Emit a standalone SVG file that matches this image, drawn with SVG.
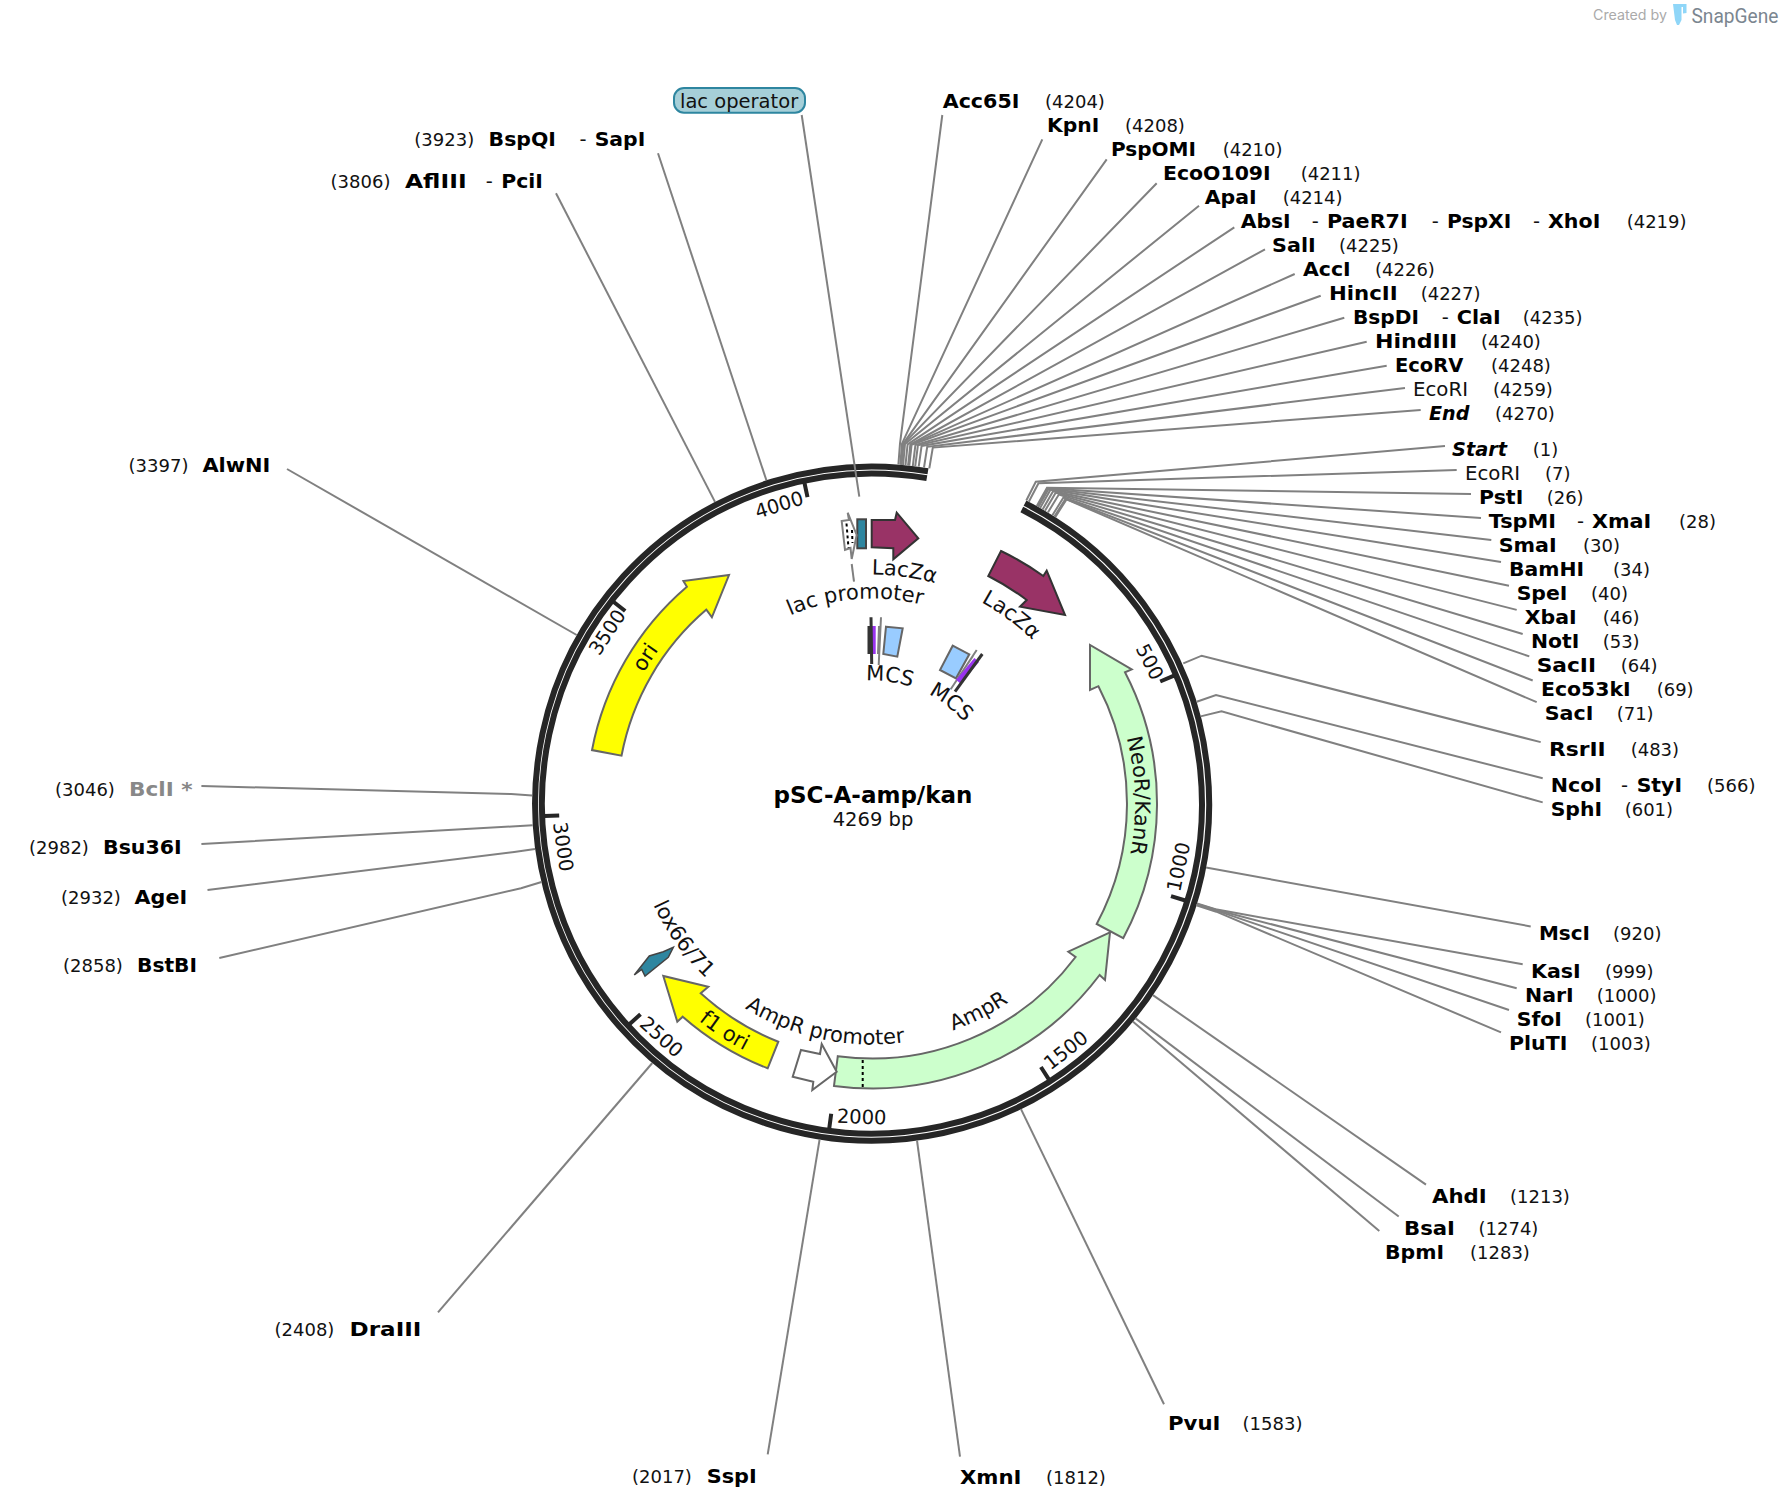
<svg xmlns="http://www.w3.org/2000/svg" width="1786" height="1510" viewBox="0 0 1786 1510">
<defs><style>
text{font-family:"DejaVu Sans","Liberation Sans",sans-serif;font-size:19.5px;fill:#111}
.e{font-weight:bold;fill:#000}
.s{font-weight:bold;font-style:italic;fill:#000}
.g{font-weight:bold;fill:#888}
.n{font-size:18px}
.a{font-size:21px}
.t{text-anchor:middle}
.l{fill:none;stroke:#808080;stroke-width:2}
.r{fill:none;stroke:#262626;stroke-width:6}
.k{stroke:#262626;stroke-width:4;fill:none}
.f{stroke:#666;stroke-width:2}
.y{fill:#ffff00}
.v{fill:#ccffcc}
.m{fill:#993366;stroke:#333;stroke-width:2}
.b{fill:#99ccff;stroke:#666;stroke-width:2}
.p{fill:#9933ee;stroke:none}
.d{stroke:#333;stroke-width:3;fill:none}
.h{stroke:#808080;stroke-width:2;fill:none}
.q{fill:#2e86a0;stroke:#444;stroke-width:2}
.o{fill:none;stroke:#000;stroke-width:2;stroke-dasharray:3 3}
</style>
<path id="a1" d="M686.7 715.9A205 205 0 0 1 1040.5 686.8"/>
<path id="a2" d="M691.5 662.5A229 229 0 0 1 1084.3 717.7"/>
<path id="a3" d="M775.1 727.8A123 123 0 0 1 986 757.4"/>
<path id="a4" d="M780.7 593.5A229 229 0 0 1 1099.5 829.4"/>
<path id="a5" d="M825.9 689.5A123 123 0 0 1 993.8 820.6"/>
<path id="a6" d="M638.1 923.7A263 263 0 0 1 884.8 540.8"/>
<path id="a7" d="M996.7 571.9A263 263 0 0 1 1010.2 1027.3"/>
<path id="a9" d="M741.1 1005.8A241 241 0 0 0 1112.7 815.7"/>
<path id="a10" d="M642.8 878A241 241 0 0 0 1051.1 964.8"/>
<path id="a11" d="M594.4 789A278 278 0 0 0 998.2 1051.2"/>
<path id="a12" d="M652.4 704.3A241 241 0 0 0 895.9 1043.3"/>
</defs>
<rect width="1786" height="1510" fill="#fff"/>

<g id="backbone">
<path class="r" d="M1025 503.2A337 337 0 1 1 928 471.2"/>
<path class="r" d="M1021.8 509.5A330 330 0 1 1 926.8 478.1"/>
<path class="k" d="M1160.2 681.5L1174 675.6M1171 896.1L1185.3 900.5M1040.9 1067L1049 1079.7M831.2 1113.8L829.2 1128.7M640.5 1014.2L629.4 1024.3M559.2 815.5L544.2 816.1M625.2 611L613.4 601.7M807.5 497.2L804.4 482.5"/>
<g id="ticks">
<text class="t" y="7" transform="translate(1150 661.7) rotate(63)">500</text>
<text class="t" y="7" transform="translate(1178.3 866.7) rotate(-78.3)">1000</text>
<text class="t" y="7" transform="translate(1065.7 1050) rotate(-38.2)">1500</text>
<text class="t" y="7" transform="translate(861.7 1116.7) rotate(1.9)">2000</text>
<text class="t" y="7" transform="translate(661.7 1036.7) rotate(42)">2500</text>
<text class="t" y="7" transform="translate(563.5 846.7) rotate(82)">3000</text>
<text class="t" y="7" transform="translate(607 632) rotate(-57)">3500</text>
<text class="t" y="7" transform="translate(779 504.6) rotate(-17.3)">4000</text>
</g>
</g>

<g id="connectors">
<polyline class="l" points="898.4,464.5 900,443.6 942.3,115"/>
<polyline class="l" points="900.3,464.7 902,443.7 1042.3,139.3"/>
<polyline class="l" points="901.2,464.8 903,443.8 1106.7,159.3"/>
<polyline class="l" points="901.6,464.8 903.5,443.9 1156.7,183.3"/>
<polyline class="l" points="903.1,465 905,444 1199,205.7"/>
<polyline class="l" points="905.5,465.2 907.6,444.3 1234.3,227.3"/>
<polyline class="l" points="908.1,465.4 910.4,444.5 1265,249.3"/>
<polyline class="l" points="908.7,465.5 911,444.6 1294.7,274"/>
<polyline class="l" points="909.3,465.6 911.6,444.7 1320.7,295.7"/>
<polyline class="l" points="912.8,466 915.4,445.1 1344.3,317.7"/>
<polyline class="l" points="915.2,466.3 917.9,445.4 1366.7,341.7"/>
<polyline class="l" points="918.7,466.7 921.6,445.9 1386.7,365.7"/>
<polyline class="l" points="924,467.5 927.2,446.8 1405,388"/>
<polyline class="l" points="929.3,468.4 932.8,447.6 1420.7,410"/>
<polyline class="l" points="1026.3,500.5 1035.8,481.8 1445,446"/>
<polyline class="l" points="1028.8,501.8 1038.5,483.2 1456.7,470"/>
<polyline class="l" points="1036.8,506.1 1047,487.7 1471,494"/>
<polyline class="l" points="1037.6,506.6 1047.8,488.2 1481,518"/>
<polyline class="l" points="1038.4,507 1048.7,488.7 1491.3,540"/>
<polyline class="l" points="1040.1,508 1050.5,489.7 1501,562"/>
<polyline class="l" points="1042.6,509.4 1053.1,491.2 1509,585.8"/>
<polyline class="l" points="1045,510.8 1055.7,492.7 1516.7,609.9"/>
<polyline class="l" points="1047.9,512.5 1058.8,494.6 1522.7,634"/>
<polyline class="l" points="1052.4,515.3 1063.5,497.5 1529.3,656.4"/>
<polyline class="l" points="1054.4,516.5 1065.6,498.8 1532.7,680.5"/>
<polyline class="l" points="1055.2,517.1 1066.5,499.4 1536.7,702.2"/>
<polyline class="l" points="1183.3,663.3 1201.7,655.7 1540.7,742.1"/>
<polyline class="l" points="1196.7,701.7 1216,695 1542.7,778.3"/>
<polyline class="l" points="1200.6,716.4 1221.5,711.4 1542.7,802.4"/>
<polyline class="l" points="1206,867.6 1530.7,926.4"/>
<polyline class="l" points="1197,903.5 1217,909.6 1522.7,964.2"/>
<polyline class="l" points="1196.8,904 1216.8,910 1516.7,988.3"/>
<polyline class="l" points="1196.6,904.5 1216.5,910.6 1509,1010"/>
<polyline class="l" points="1196.3,905.4 1216.3,911.7 1501,1032.4"/>
<polyline class="l" points="1152.9,995.1 1426,1184.6"/>
<polyline class="l" points="1135.5,1018.4 1398.7,1216.5"/>
<polyline class="l" points="1132.8,1021.6 1379.3,1231"/>
<polyline class="l" points="1021,1109.1 1164,1404.3"/>
<polyline class="l" points="917,1140.5 960,1456.7"/>
<polyline class="l" points="819.6,1139.4 767.7,1454.3"/>
<polyline class="l" points="652.3,1063 438,1312.3"/>
<polyline class="l" points="541.5,882 521,888.3 219.3,958"/>
<polyline class="l" points="535,849 514.2,851.9 207.5,890"/>
<polyline class="l" points="532.7,825.2 511.7,826.5 201.4,844"/>
<polyline class="l" points="532.1,795.4 511.1,794 201.4,786"/>
<polyline class="l" points="576.7,635 287,469"/>
<polyline class="l" points="715,501.9 556,193.3"/>
<polyline class="l" points="766.4,480.3 658,153.3"/>
<polyline class="l" points="801.7,115 859.3,496.7"/>
<polyline class="l" points="851.7,564 854,581.7"/>
</g>

<g id="feature-ori"><path class="f y" d="M592 750.1A285 285 0 0 1 686.9 586.8L683.4 581L729 575L711.9 617.3L706.4 609.6A255 255 0 0 0 621.5 755.7Z"/><text class="a"><textPath href="#a6" startOffset="50%" text-anchor="middle">ori</textPath></text></g>
<g id="feature-NeoR"><path class="f v" d="M1123.2 938.2A285 285 0 0 0 1125 672.3L1131.7 669.3L1090 645L1090 690L1098.4 686.2A255 255 0 0 1 1096.7 924Z"/><text class="a"><textPath href="#a7" startOffset="50%" text-anchor="middle">NeoR/KanR</textPath></text></g>
<g id="feature-AmpR"><path class="f v" d="M834 1085.9A285 285 0 0 0 1099.6 975L1105 980L1110 932.3L1068.3 951.7L1075.6 957A255 255 0 0 1 837.8 1056.2Z"/><path class="o" d="M862.7 1060L862.7 1087.3"/><text class="a"><textPath href="#a9" startOffset="50%" text-anchor="middle">AmpR</textPath></text></g>
<g id="feature-AmpR-promoter"><path class="f" fill="#fff" d="M801 1050L820 1054L821.7 1044L836.7 1071.7L812.3 1090L813.3 1081.7L792.7 1076.7Z"/><text class="a"><textPath href="#a10" startOffset="50%" text-anchor="middle">AmpR promoter</textPath></text></g>
<g id="feature-f1-ori"><path class="f y" d="M778.3 1041.7A255 255 0 0 1 700.7 993.3L708.3 986.7L663.3 976L677.3 1021.7L682.7 1016.7A285 285 0 0 0 767.7 1068.3Z"/><text class="a"><textPath href="#a11" startOffset="50%" text-anchor="middle">f1 ori</textPath></text></g>
<g id="feature-lox"><path class="q" style="stroke-width:1.5" d="M673.3 947.3L668.3 957.3L645 976L641.7 969.3L634.3 975L649.3 956L663.3 951.7Z"/><text class="a"><textPath href="#a12" startOffset="50%" text-anchor="middle">lox66/71</textPath></text></g>
<g id="feature-LacZa-1"><path class="m" d="M1001 551A284 284 0 0 1 1043.3 576L1046.7 570.7L1065 615L1020 606.7L1026.7 600A255 255 0 0 0 988.3 576Z"/><text class="a"><textPath href="#a4" startOffset="50%" text-anchor="middle">LacZα</textPath></text></g>
<g id="feature-LacZa-2"><path class="m" d="M871.7 520L895 520L896.7 512.7L918.3 538.3L893.3 559.3L893.3 548.3L871.7 547.3Z"/><text class="a"><textPath href="#a2" startOffset="50%" text-anchor="middle">LacZα</textPath></text></g>
<g id="feature-lac-operator"><rect class="q" x="857.3" y="519.3" width="8.7" height="29"/><rect x="674" y="88" width="131" height="24.7" rx="10" fill="#a6cfd8" stroke="#2e86a0" stroke-width="2"/><text x="680" y="107.7">lac operator</text></g>
<g id="feature-lac-promoter"><path class="h" style="fill:#fff" d="M841.7 521L849 520L847.7 512.7L856.7 535L851.7 559L850.5 548L845 550Z"/><path class="o" d="M846.5 523.5L848.5 548M852 530L852.5 543"/><text class="a"><textPath href="#a1" startOffset="50%" text-anchor="middle">lac promoter</textPath></text></g>
<g id="feature-MCS-1"><path class="b" d="M886 626.7L902.7 628.3L897.3 656.7L883.3 654Z"/><rect class="p" x="868.5" y="626" width="7.2" height="28"/><path class="d" d="M871 617.3L871.7 664M869 626L869 654"/><path class="h" d="M881 617.3L878.7 665M879 626L878 654"/><text class="a"><textPath href="#a3" startOffset="50%" text-anchor="middle">MCS</textPath></text></g>
<g id="feature-MCS-2"><path class="b" d="M952.7 645.7L969.3 654.3L956 678.3L940 670Z"/><path class="h" d="M976.7 650L950.7 689.3M973 656L958 678"/><path d="M976.7 660L958.3 681.7" stroke="#9933ee" stroke-width="6" fill="none"/><path class="d" d="M982.3 654L955 691.7"/><text class="a"><textPath href="#a5" startOffset="50%" text-anchor="middle">MCS</textPath></text></g>

<g id="title"><text class="t e" x="873" y="803" style="font-size:23px">pSC-A-amp/kan</text><text class="t" x="873" y="826">4269 bp</text></g>

<g id="site-Acc65I"><text class="e" lengthAdjust="spacingAndGlyphs" textLength="76.7" x="942.7" y="108">Acc65I</text><text class="n" x="1045" y="108">(4204)</text></g>
<g id="site-KpnI"><text class="e" lengthAdjust="spacingAndGlyphs" textLength="52.3" x="1047" y="132">KpnI</text><text class="n" x="1125" y="132">(4208)</text></g>
<g id="site-PspOMI"><text class="e" lengthAdjust="spacingAndGlyphs" textLength="85" x="1111" y="156">PspOMI</text><text class="n" x="1222.7" y="156">(4210)</text></g>
<g id="site-EcoO109I"><text class="e" lengthAdjust="spacingAndGlyphs" textLength="107.7" x="1163" y="180">EcoO109I</text><text class="n" x="1300.7" y="180">(4211)</text></g>
<g id="site-ApaI"><text class="e" lengthAdjust="spacingAndGlyphs" textLength="52" x="1204.7" y="204">ApaI</text><text class="n" x="1282.7" y="204">(4214)</text></g>
<g id="site-AbsI"><text class="e" lengthAdjust="spacingAndGlyphs" textLength="50" x="1240.7" y="228">AbsI</text><text x="1311.7" y="228">-</text><text class="e" lengthAdjust="spacingAndGlyphs" textLength="80.7" x="1327" y="228">PaeR7I</text><text x="1431.7" y="228">-</text><text class="e" lengthAdjust="spacingAndGlyphs" textLength="64.3" x="1447" y="228">PspXI</text><text x="1533" y="228">-</text><text class="e" lengthAdjust="spacingAndGlyphs" textLength="52.3" x="1548" y="228">XhoI</text><text class="n" x="1626.7" y="228">(4219)</text></g>
<g id="site-SalI"><text class="e" lengthAdjust="spacingAndGlyphs" textLength="43.7" x="1272" y="252">SalI</text><text class="n" x="1339" y="252">(4225)</text></g>
<g id="site-AccI"><text class="e" lengthAdjust="spacingAndGlyphs" textLength="47.7" x="1303" y="276">AccI</text><text class="n" x="1375" y="276">(4226)</text></g>
<g id="site-HincII"><text class="e" lengthAdjust="spacingAndGlyphs" textLength="68.7" x="1329" y="300">HincII</text><text class="n" x="1420.7" y="300">(4227)</text></g>
<g id="site-BspDI"><text class="e" lengthAdjust="spacingAndGlyphs" textLength="66" x="1353" y="324">BspDI</text><text x="1441.7" y="324">-</text><text class="e" lengthAdjust="spacingAndGlyphs" textLength="44" x="1456.7" y="324">ClaI</text><text class="n" x="1522.7" y="324">(4235)</text></g>
<g id="site-HindIII"><text class="e" lengthAdjust="spacingAndGlyphs" textLength="82.3" x="1375" y="348">HindIII</text><text class="n" x="1481" y="348">(4240)</text></g>
<g id="site-EcoRV"><text class="e" lengthAdjust="spacingAndGlyphs" textLength="68.3" x="1395" y="372">EcoRV</text><text class="n" x="1491" y="372">(4248)</text></g>
<g id="site-EcoRI-4259"><text lengthAdjust="spacingAndGlyphs" textLength="55" x="1413" y="396">EcoRI</text><text class="n" x="1493" y="396">(4259)</text></g>
<g id="site-End"><text class="s" lengthAdjust="spacingAndGlyphs" textLength="40.3" x="1429" y="420">End</text><text class="n" x="1495" y="420">(4270)</text></g>
<g id="site-Start"><text class="s" lengthAdjust="spacingAndGlyphs" textLength="55" x="1452" y="456">Start</text><text class="n" x="1532.7" y="456">(1)</text></g>
<g id="site-EcoRI-7"><text lengthAdjust="spacingAndGlyphs" textLength="55" x="1465" y="480">EcoRI</text><text class="n" x="1545" y="480">(7)</text></g>
<g id="site-PstI"><text class="e" lengthAdjust="spacingAndGlyphs" textLength="44.3" x="1479" y="504">PstI</text><text class="n" x="1546.7" y="504">(26)</text></g>
<g id="site-TspMI"><text class="e" lengthAdjust="spacingAndGlyphs" textLength="67.3" x="1488.7" y="528">TspMI</text><text x="1577" y="528">-</text><text class="e" lengthAdjust="spacingAndGlyphs" textLength="59.3" x="1592" y="528">XmaI</text><text class="n" x="1679" y="528">(28)</text></g>
<g id="site-SmaI"><text class="e" lengthAdjust="spacingAndGlyphs" textLength="58" x="1498.7" y="552">SmaI</text><text class="n" x="1583" y="552">(30)</text></g>
<g id="site-BamHI"><text class="e" lengthAdjust="spacingAndGlyphs" textLength="75" x="1509" y="576">BamHI</text><text class="n" x="1613" y="576">(34)</text></g>
<g id="site-SpeI"><text class="e" lengthAdjust="spacingAndGlyphs" textLength="50.7" x="1516.7" y="600">SpeI</text><text class="n" x="1591" y="600">(40)</text></g>
<g id="site-XbaI"><text class="e" lengthAdjust="spacingAndGlyphs" textLength="52" x="1524.7" y="624">XbaI</text><text class="n" x="1602.7" y="624">(46)</text></g>
<g id="site-NotI"><text class="e" lengthAdjust="spacingAndGlyphs" textLength="48.3" x="1531" y="648">NotI</text><text class="n" x="1602.7" y="648">(53)</text></g>
<g id="site-SacII"><text class="e" lengthAdjust="spacingAndGlyphs" textLength="59.3" x="1536.7" y="672">SacII</text><text class="n" x="1620.7" y="672">(64)</text></g>
<g id="site-Eco53kI"><text class="e" lengthAdjust="spacingAndGlyphs" textLength="89.7" x="1541" y="696">Eco53kI</text><text class="n" x="1656.7" y="696">(69)</text></g>
<g id="site-SacI"><text class="e" lengthAdjust="spacingAndGlyphs" textLength="48.7" x="1544.7" y="720">SacI</text><text class="n" x="1616.7" y="720">(71)</text></g>
<g id="site-RsrII"><text class="e" lengthAdjust="spacingAndGlyphs" textLength="56.7" x="1549" y="756">RsrII</text><text class="n" x="1630.7" y="756">(483)</text></g>
<g id="site-NcoI"><text class="e" lengthAdjust="spacingAndGlyphs" textLength="51.3" x="1550.7" y="792">NcoI</text><text x="1621" y="792">-</text><text class="e" lengthAdjust="spacingAndGlyphs" textLength="45.3" x="1636.7" y="792">StyI</text><text class="n" x="1707" y="792">(566)</text></g>
<g id="site-SphI"><text class="e" lengthAdjust="spacingAndGlyphs" textLength="51.3" x="1550.7" y="816">SphI</text><text class="n" x="1624.7" y="816">(601)</text></g>
<g id="site-MscI"><text class="e" lengthAdjust="spacingAndGlyphs" textLength="51" x="1539" y="940">MscI</text><text class="n" x="1613" y="940">(920)</text></g>
<g id="site-KasI"><text class="e" lengthAdjust="spacingAndGlyphs" textLength="49.7" x="1531" y="978">KasI</text><text class="n" x="1605" y="978">(999)</text></g>
<g id="site-NarI"><text class="e" lengthAdjust="spacingAndGlyphs" textLength="48.7" x="1525" y="1002">NarI</text><text class="n" x="1596.7" y="1002">(1000)</text></g>
<g id="site-SfoI"><text class="e" lengthAdjust="spacingAndGlyphs" textLength="45.3" x="1516.7" y="1026">SfoI</text><text class="n" x="1585" y="1026">(1001)</text></g>
<g id="site-PluTI"><text class="e" lengthAdjust="spacingAndGlyphs" textLength="58.3" x="1509" y="1050">PluTI</text><text class="n" x="1591" y="1050">(1003)</text></g>
<g id="site-AhdI"><text class="e" lengthAdjust="spacingAndGlyphs" textLength="54.7" x="1432" y="1203">AhdI</text><text class="n" x="1510" y="1203">(1213)</text></g>
<g id="site-BsaI"><text class="e" lengthAdjust="spacingAndGlyphs" textLength="51" x="1404" y="1234.7">BsaI</text><text class="n" x="1478.5" y="1234.7">(1274)</text></g>
<g id="site-BpmI"><text class="e" lengthAdjust="spacingAndGlyphs" textLength="59" x="1385" y="1258.7">BpmI</text><text class="n" x="1470" y="1258.7">(1283)</text></g>
<g id="site-PvuI"><text class="e" lengthAdjust="spacingAndGlyphs" textLength="52.4" x="1168" y="1430.3">PvuI</text><text class="n" x="1242.6" y="1430.3">(1583)</text></g>
<g id="site-XmnI"><text class="e" lengthAdjust="spacingAndGlyphs" textLength="61.5" x="960" y="1484">XmnI</text><text class="n" x="1046" y="1484">(1812)</text></g>
<g id="site-SspI"><text class="n" x="632" y="1482.7">(2017)</text><text class="e" lengthAdjust="spacingAndGlyphs" textLength="50" x="706.7" y="1482.7">SspI</text></g>
<g id="site-DraIII"><text class="n" x="274.5" y="1336">(2408)</text><text class="e" lengthAdjust="spacingAndGlyphs" textLength="71.8" x="349.6" y="1336">DraIII</text></g>
<g id="site-BstBI"><text class="n" x="63" y="972">(2858)</text><text class="e" lengthAdjust="spacingAndGlyphs" textLength="60" x="137" y="972">BstBI</text></g>
<g id="site-AgeI"><text class="n" x="61" y="904">(2932)</text><text class="e" lengthAdjust="spacingAndGlyphs" textLength="52.5" x="134.6" y="904">AgeI</text></g>
<g id="site-Bsu36I"><text class="n" x="29" y="854.3">(2982)</text><text class="e" lengthAdjust="spacingAndGlyphs" textLength="78.6" x="103" y="854.3">Bsu36I</text></g>
<g id="site-BclI"><text class="n" x="55" y="796">(3046)</text><text class="g" lengthAdjust="spacingAndGlyphs" textLength="63.6" x="129" y="796">BclI *</text></g>
<g id="site-AlwNI"><text class="n" x="128.6" y="472">(3397)</text><text class="e" lengthAdjust="spacingAndGlyphs" textLength="68" x="202.4" y="472">AlwNI</text></g>
<g id="site-AflIII"><text class="n" x="330.6" y="188">(3806)</text><text class="e" lengthAdjust="spacingAndGlyphs" textLength="61.6" x="405" y="188">AflIII</text><text x="485.7" y="188">-</text><text class="e" lengthAdjust="spacingAndGlyphs" textLength="41.6" x="501.2" y="188">PciI</text></g>
<g id="site-BspQI"><text class="n" x="414.3" y="146">(3923)</text><text class="e" lengthAdjust="spacingAndGlyphs" textLength="67.3" x="488.6" y="146">BspQI</text><text x="579.6" y="146">-</text><text class="e" lengthAdjust="spacingAndGlyphs" textLength="50.6" x="594.7" y="146">SapI</text></g>

<g id="credit">
<text x="1593" y="20" lengthAdjust="spacingAndGlyphs" textLength="74" style="font-family:Inter,Roboto,sans-serif;font-size:14px;fill:#aaa">Created by</text>
<path d="M1673 4H1686.5V13L1683 13.5V7H1681.5V20L1679 25H1677L1675 20Z" fill="#8fd6f8"/>
<text x="1691.5" y="22.5" lengthAdjust="spacingAndGlyphs" textLength="87" style="font-family:Roboto,sans-serif;font-size:21px;fill:#7b8690">SnapGene</text>
</g>
</svg>
